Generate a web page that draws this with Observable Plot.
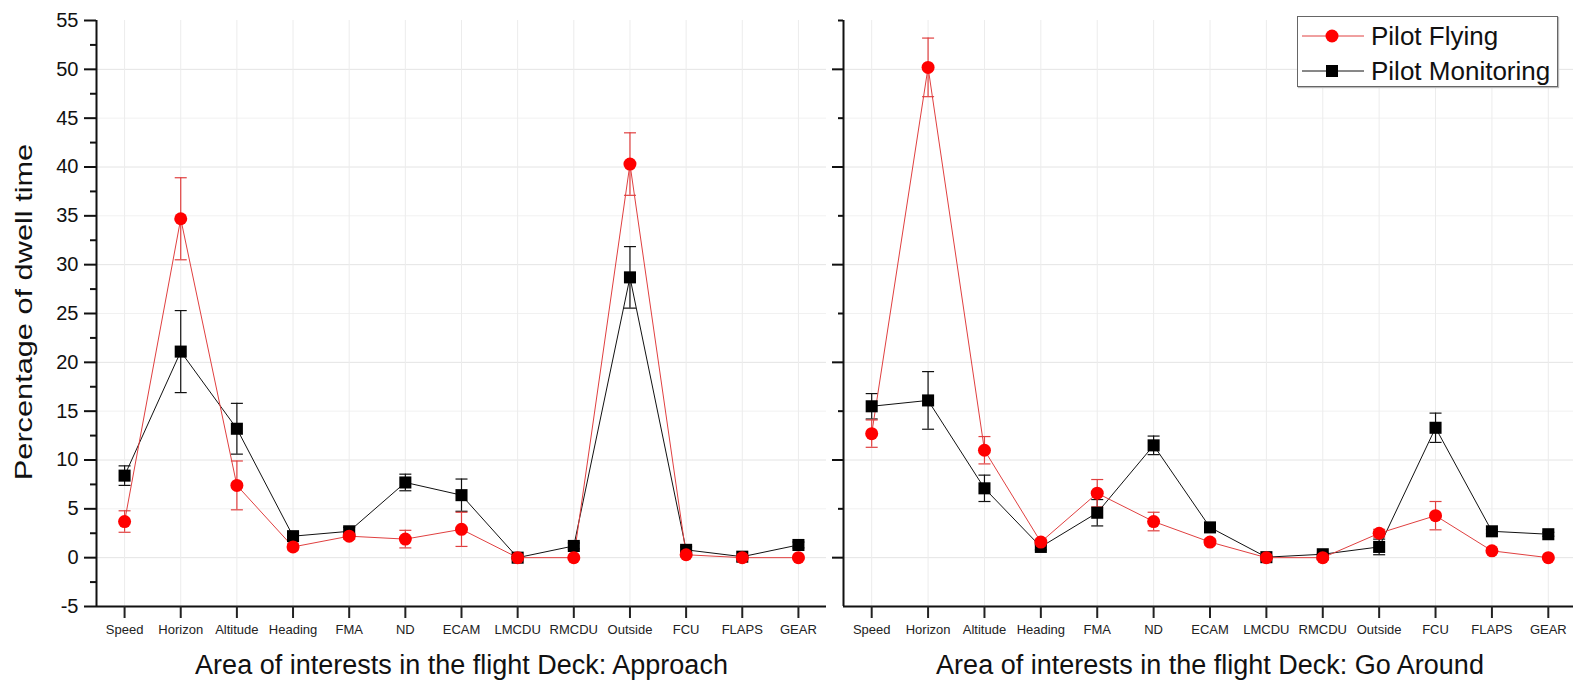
<!DOCTYPE html>
<html><head><meta charset="utf-8">
<script src="https://cdn.jsdelivr.net/npm/d3@7"></script>
<script src="https://cdn.jsdelivr.net/npm/@observablehq/plot@0.6"></script>
<style>
html,body{margin:0;padding:0;background:#fff;overflow:hidden;}
#wrap{position:relative;width:1573px;height:686px;overflow:hidden;font-family:"Liberation Sans",Arial,sans-serif;background:#fff;}
#left,#right{position:absolute;top:0;}
#left{left:0px;width:843px;}
#right{left:823px;width:753px;}
#wrap svg{max-width:none !important;}
#ytitle{position:absolute;left:24px;top:312px;font-size:24px;line-height:1;white-space:nowrap;color:#111;transform:translate(-50%,-50%) rotate(-90deg) scaleX(1.28);}
#legend{position:absolute;left:1297px;top:16px;width:259px;height:69px;border:1px solid #666;background:#fff;box-shadow:1px 1px 1px #bbb;}
.row{position:absolute;left:0;width:259px;height:36px;}
.row svg{position:absolute;left:4px;top:8px;}
.row span{position:absolute;left:73px;top:50%;transform:translateY(-50%);font-size:26px;line-height:1;color:#111;white-space:nowrap;}
</style>
</head>
<body>
<div id="wrap">
  <div id="left"></div>
  <div id="right"></div>
  <div id="ytitle">Percentage of dwell time</div>
  <div id="legend">
    <div class="row" style="top:1px"><svg width="64" height="20"><line x1="0" y1="10" x2="62" y2="10" stroke="#e04040" stroke-width="1"/><circle cx="30" cy="10" r="6.5" fill="#ff0000"/></svg><span id="lg1"></span></div>
    <div class="row" style="top:36px"><svg width="64" height="20"><line x1="0" y1="10" x2="62" y2="10" stroke="#111" stroke-width="1"/><rect x="24" y="4" width="12" height="12" fill="#000"/></svg><span id="lg2"></span></div>
  </div>
</div>
<script>
const categories = ["Speed","Horizon","Altitude","Heading","FMA","ND","ECAM","LMCDU","RMCDU","Outside","FCU","FLAPS","GEAR"];
const seriesNames = ["Pilot Flying","Pilot Monitoring"];
const panelTitles = ["Area of interests in the flight Deck: Approach","Area of interests in the flight Deck: Go Around"];

// Approach
const approachPF    = [3.7, 34.7, 7.4, 1.1, 2.2, 1.9, 2.9, 0.0, 0.0, 40.3, 0.3, 0.0, 0.0];
const approachPFErr = [1.1, 4.2, 2.5, 0.3, 0.3, 0.9, 1.75, 0.1, 0.1, 3.2, 0.2, 0.1, 0.1];
const approachPM    = [8.4, 21.1, 13.2, 2.2, 2.7, 7.7, 6.4, 0.0, 1.2, 28.7, 0.8, 0.1, 1.3];
const approachPMErr = [1.0, 4.2, 2.6, 0.4, 0.4, 0.85, 1.65, 0.1, 0.3, 3.15, 0.3, 0.1, 0.3];
// Go Around
const goAroundPF    = [12.7, 50.2, 11.0, 1.6, 6.6, 3.7, 1.6, 0.0, 0.0, 2.5, 4.3, 0.7, 0.0];
const goAroundPFErr = [1.4, 3.0, 1.4, 0.3, 1.4, 0.95, 0.3, 0.1, 0.1, 0.4, 1.45, 0.2, 0.1];
const goAroundPM    = [15.5, 16.1, 7.1, 1.1, 4.6, 11.5, 3.1, 0.05, 0.35, 1.1, 13.3, 2.7, 2.4];
const goAroundPMErr = [1.3, 2.95, 1.35, 0.3, 1.35, 0.95, 0.3, 0.1, 0.1, 0.8, 1.5, 0.2, 0.2];

const yMajorLeft  = [-5,0,5,10,15,20,25,30,35,40,45,50,55];
const yMinorLeft  = [-2.5,2.5,7.5,12.5,17.5,22.5,27.5,32.5,37.5,42.5,47.5,52.5];
const yMajorRight = [0,10,20,30,40,50];
const yMinorRight = [5,15,25,35,45,55];
const gridMajor = [0,10,20,30,40,50];
const gridMinor = [5,15,25,35,45];

document.getElementById("lg1").textContent = seriesNames[0];
document.getElementById("lg2").textContent = seriesNames[1];

const idx = categories.map((c, i) => i);
const rows = (vals, errs) => categories.map((c, i) => ({i, c, v: vals[i], e: errs[i]}));

const cap = { draw(ctx) { ctx.moveTo(-6, 0); ctx.lineTo(6, 0); } };

const RED = "#ff0000", REDLINE = "#e04040", BLACK = "#000";

function panel({pf, pfErr, pm, pmErr, title, width, marginLeft, marginRight, left}) {
  const PF = rows(pf, pfErr), PM = rows(pm, pmErr);
  const axes = left ? [
    Plot.axisY({ticks: yMajorLeft, tickSize: 12, tickPadding: 6, fontSize: 20, strokeWidth: 2, color: "#111", label: null, tickFormat: d => String(d)}),
    Plot.axisY({ticks: yMinorLeft, tickSize: 6, tickFormat: () => "", strokeWidth: 2, color: "#111", label: null})
  ] : [
    Plot.axisY({ticks: yMajorRight, tickSize: 11, tickFormat: () => "", strokeWidth: 2, color: "#111", label: null}),
    Plot.axisY({ticks: yMinorRight, tickSize: 5, tickFormat: () => "", strokeWidth: 2, color: "#111", label: null})
  ];
  return Plot.plot({
    width, height: 686, marginTop: 20, marginBottom: 80, marginLeft, marginRight,
    style: "overflow:visible;background:transparent;max-width:none;font-family:'Liberation Sans',Arial,sans-serif;",
    x: {type: "linear", domain: [-0.5, 12.5], label: null},
    y: {domain: [-5, 55], label: null},
    marks: [
      Plot.ruleY(gridMinor, {stroke: "#f1f1f1"}),
      Plot.ruleY(gridMajor, {stroke: "#e4e4e4"}),
      Plot.ruleX(idx, {stroke: "#ececec"}),
      Plot.ruleY([-5], {stroke: "#111", strokeWidth: 2}),
      Plot.ruleX([-0.5], {stroke: "#111", strokeWidth: 2}),
      ...axes,
      Plot.axisX({ticks: idx, tickFormat: i => categories[i], tickSize: 12, tickPadding: 6, fontSize: 13, strokeWidth: 2, color: "#222", label: null}),
      Plot.text([title], {frameAnchor: "bottom", dy: 67, fontSize: 27, fill: "#111"}),
      // error bars
      Plot.ruleX(PM, {x: "i", y1: d => d.v - d.e, y2: d => d.v + d.e, stroke: "#111", strokeWidth: 1.2}),
      Plot.dot(PM, {x: "i", y: d => d.v + d.e, symbol: cap, fill: "none", stroke: "#111", strokeWidth: 1.2}),
      Plot.dot(PM, {x: "i", y: d => d.v - d.e, symbol: cap, fill: "none", stroke: "#111", strokeWidth: 1.2}),
      Plot.ruleX(PF, {x: "i", y1: d => d.v - d.e, y2: d => d.v + d.e, stroke: REDLINE, strokeWidth: 1.2}),
      Plot.dot(PF, {x: "i", y: d => d.v + d.e, symbol: cap, fill: "none", stroke: REDLINE, strokeWidth: 1.2}),
      Plot.dot(PF, {x: "i", y: d => d.v - d.e, symbol: cap, fill: "none", stroke: REDLINE, strokeWidth: 1.2}),
      // lines
      Plot.line(PM, {x: "i", y: "v", stroke: "#111", strokeWidth: 1}),
      Plot.line(PF, {x: "i", y: "v", stroke: REDLINE, strokeWidth: 1}),
      // markers
      Plot.dot(PM, {x: "i", y: "v", symbol: "square", r: 6.8, fill: BLACK, stroke: "none"}),
      Plot.dot(PF, {x: "i", y: "v", symbol: "circle", r: 6.5, fill: RED, stroke: "none"})
    ]
  });
}

document.getElementById("left").append(panel({
  pf: approachPF, pfErr: approachPFErr, pm: approachPM, pmErr: approachPMErr,
  title: panelTitles[0], width: 843, marginLeft: 96, marginRight: 17, left: true
}));
document.getElementById("right").append(panel({
  pf: goAroundPF, pfErr: goAroundPFErr, pm: goAroundPM, pmErr: goAroundPMErr,
  title: panelTitles[1], width: 753, marginLeft: 20, marginRight: 0, left: false
}));
</script>
</body></html>
